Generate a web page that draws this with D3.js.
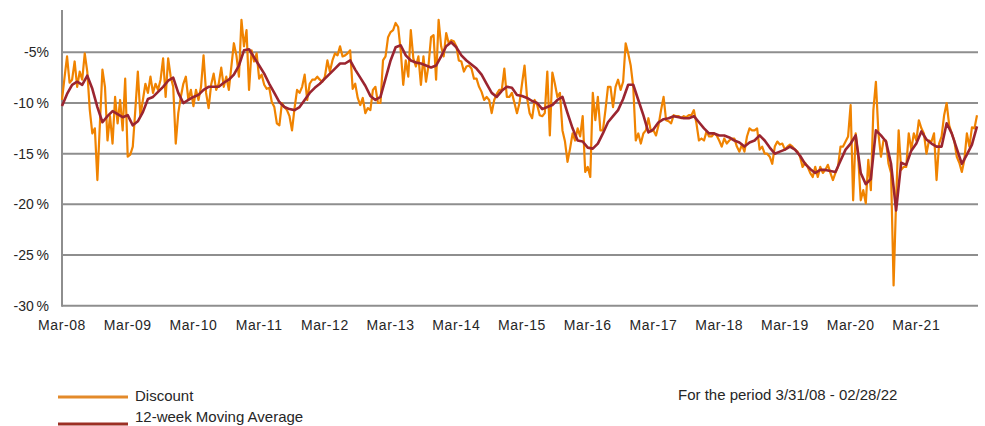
<!DOCTYPE html>
<html>
<head>
<meta charset="utf-8">
<script src="https://cdn.jsdelivr.net/npm/d3@7"></script>
<style>
    body { margin: 0; background: #fff; }
    svg text { font-family: "Liberation Sans", Arial, sans-serif; fill: #262626; }
</style>
</head>
<body>
<div id="chart"></div>
<script>
// weekly category axis, one label every 52 weeks
const tickLabels = ["Mar-08", "Mar-09", "Mar-10", "Mar-11", "Mar-12", "Mar-13", "Mar-14",
    "Mar-15", "Mar-16", "Mar-17", "Mar-18", "Mar-19", "Mar-20", "Mar-21"];
const yTicks = [-5, -10, -15, -20, -25, -30];
const lastWeek = 724;

// discount (%), one value every 2 weeks from 3/31/08
const discountStep = 2;
const discount = [
    -9.7, -7.5, -5.4, -8.0, -7.7, -5.9, -8.4, -6.9, -7.7, -5.1,
    -6.9, -10.7, -13.0, -12.5, -17.6, -12.0, -6.7, -8.4, -13.7, -11.3,
    -14.0, -9.4, -12.0, -9.7, -12.7, -7.6, -15.3, -15.1, -14.3, -10.7,
    -6.9, -11.3, -9.7, -8.1, -9.0, -7.4, -9.0, -8.1, -8.7, -7.7,
    -5.6, -9.4, -5.6, -7.4, -8.4, -14.0, -11.0, -9.4, -8.1, -7.4,
    -9.7, -8.7, -10.3, -8.7, -9.7,
    -8.4, -5.3, -9.0, -10.5, -8.2, -7.1, -8.7, -8.1, -6.5, -8.4,
    -7.4, -8.7, -6.4, -4.1, -5.3, -7.4, -1.8, -4.4, -2.8, -8.7,
    -4.8, -5.9, -5.1, -7.6, -7.2, -8.2, -8.6, -8.5, -9.9, -10.4,
    -12.0, -12.2, -10.0, -10.4, -10.7, -11.3, -12.7, -10.5, -8.7, -9.0,
    -8.4, -7.2, -9.7, -8.1, -7.7, -7.7, -7.4, -7.7, -7.9, -7.4,
    -5.8, -6.9, -5.8, -5.1, -5.3, -4.4, -5.4, -5.3, -5.1, -4.8,
    -8.6, -8.1, -9.5, -10.2, -9.5, -11.0, -10.5, -10.7, -8.7, -8.4,
    -10.0, -10.0, -5.8, -5.4, -3.5, -3.0, -2.8, -2.1, -2.5, -4.8,
    -8.2, -5.8, -7.4, -2.8, -5.6, -6.4, -5.4, -8.2, -5.4, -7.9,
    -6.3, -3.5, -3.3, -7.7, -1.8, -4.4, -5.4, -3.1, -4.1, -3.8,
    -3.9, -4.4, -5.8, -5.9, -6.9, -6.4, -6.3, -6.6, -7.6, -7.6,
    -8.4, -8.9, -9.7, -9.4, -9.7, -11.0, -9.7, -9.1, -8.7, -8.7,
    -6.6, -9.4, -9.4, -9.0, -10.0, -11.0, -10.0,
    -8.1, -6.3, -9.5, -11.0, -11.5, -9.7, -10.2, -11.2, -11.3, -11.0,
    -6.9, -13.2, -7.0, -8.1, -9.4, -9.0, -12.7, -13.8, -15.8, -14.5,
    -13.0, -13.7, -12.5, -13.3, -11.3, -16.8, -16.3, -17.3, -9.0, -11.7,
    -9.4, -12.7, -12.7, -10.7, -8.4, -8.4, -10.4, -8.4, -7.7, -8.7,
    -7.9, -4.1, -5.1, -6.3, -8.4, -13.7, -13.0, -14.0, -13.0, -12.7,
    -11.5, -12.8, -12.7, -13.2, -12.2, -10.7, -9.4, -11.7, -11.8, -12.0,
    -11.2, -11.3, -11.3, -11.5, -11.3, -11.4, -11.2, -11.2, -10.7, -12.0,
    -13.7, -13.5, -13.7, -12.8, -13.3, -13.3, -13.0, -13.2, -13.7, -14.3,
    -13.5, -14.0, -13.7, -13.5, -13.5, -14.3, -14.8, -14.1, -14.8, -13.3,
    -12.5, -12.7, -12.7, -12.5, -14.6, -14.3, -15.0, -15.0, -15.3, -16.0,
    -14.3, -13.8, -14.1, -14.0, -14.6, -14.3, -14.1, -14.3, -14.6, -14.8,
    -15.3, -16.3, -15.9, -16.3, -16.9, -17.3, -16.3, -17.3, -16.3,
    -16.9, -16.6, -16.1, -16.9, -17.6, -16.9, -16.3, -14.3, -14.3, -13.8,
    -13.3, -10.2, -19.6, -13.0, -15.3, -19.6, -18.6, -19.9, -15.6, -18.6,
    -10.7, -7.9, -13.0, -15.3, -13.7, -13.7, -16.0, -16.9, -28.0, -19.6,
    -12.7, -16.6, -16.3, -16.3, -13.0, -14.6, -13.0, -13.7, -11.7, -12.5,
    -13.0, -15.0, -13.7, -13.8, -13.0, -17.6, -14.0, -13.3, -11.2, -10.0,
    -12.2, -13.0, -13.7, -15.3, -15.9, -16.8, -15.6, -13.0, -14.3, -12.4,
    -12.5, -11.2
];

// 12-week moving average (%), one value every 4 weeks
const movingAvgStep = 4;
const movingAvg = [
    -10.3, -9.1, -8.2, -7.9, -8.2, -7.3, -8.6, -10.4, -11.9, -11.3,
    -10.8, -11.1, -11.4, -11.2, -12.2, -11.8, -10.9, -9.6, -9.4, -8.9,
    -8.4, -7.8, -7.5, -9.0, -10.0, -9.7, -9.4,
    -9.2, -8.7, -8.4, -8.4, -8.4, -8.0, -7.7, -7.2, -6.3, -4.8,
    -4.7, -5.5, -6.3, -7.1, -8.1, -9.0, -9.9, -10.4, -10.6, -10.7,
    -10.4, -9.7, -9.0, -8.5, -8.1, -7.6, -7.1, -6.6, -6.1, -6.1,
    -5.8,
    -6.7, -7.5, -8.3, -9.3, -9.7, -9.4, -7.6, -5.8, -4.5, -4.3,
    -5.3, -5.8, -6.0, -6.1, -6.3, -6.5, -6.3, -5.4, -4.4, -4.0,
    -4.5, -5.3, -5.8, -6.2, -6.6, -7.2, -8.1, -9.0, -9.4, -8.8,
    -8.4, -8.5, -9.2,
    -9.3, -9.5, -9.8, -10.0, -10.6, -10.4, -10.2, -9.7, -9.4, -11.0,
    -12.5, -13.7, -13.8, -14.4, -14.5, -14.0, -13.0, -11.9, -11.3, -10.7,
    -9.6, -8.2, -8.2, -9.7, -11.2, -12.9, -12.6, -11.9, -11.6, -11.5,
    -11.3, -11.4, -11.5, -11.5, -11.3, -11.9, -12.5, -13.0, -13.0, -13.2,
    -13.2, -13.4, -13.7, -13.9, -14.3, -13.9, -13.7, -13.2, -13.7, -14.4,
    -15.0, -14.8, -14.6, -14.3, -14.6, -15.2, -16.0, -16.5, -16.9, -16.6,
    -16.6, -16.7, -16.8, -15.7, -14.6, -14.0, -13.2, -16.9, -18.0, -17.5,
    -12.7, -13.2, -13.8, -16.0, -20.6, -15.9, -16.1, -14.7, -14.0, -12.8,
    -13.6, -14.0, -14.3, -14.3, -12.0, -13.0, -14.5, -16.0, -15.1, -14.1,
    -12.3
];

const legendItems = [
    { name: "Discount", color: "#e38a2a" },
    { name: "12-week Moving Average", color: "#9c2f24" }
];
const periodNote = "For the period 3/31/08 - 02/28/22";

const width = 985, height = 426;
const plotLeft = 62, plotRight = 977, plotTop = 10, plotBottom = 305.7;

const svg = d3.select("#chart").append("svg")
    .attr("width", width)
    .attr("height", height);

const x = d3.scaleLinear().domain([0, lastWeek]).range([plotLeft, plotRight]);
const y = d3.scaleLinear().domain([-30, 0]).range([plotBottom, plotBottom - 30 * 50.67 / 5]);

// gridlines
svg.append("g")
    .selectAll("line")
    .data(yTicks)
    .join("line")
    .attr("x1", plotLeft)
    .attr("x2", 978)
    .attr("y1", d => y(d))
    .attr("y2", d => y(d))
    .attr("stroke", "#8e8e8e")
    .attr("stroke-width", 2);

// y axis line
svg.append("line")
    .attr("x1", plotLeft).attr("x2", plotLeft)
    .attr("y1", plotTop).attr("y2", y(-30) + 1)
    .attr("stroke", "#8e8e8e")
    .attr("stroke-width", 2);

// y labels
svg.append("g")
    .selectAll("text")
    .data(yTicks)
    .join("text")
    .attr("x", 49)
    .attr("y", d => y(d))
    .attr("dy", "0.36em")
    .attr("text-anchor", "end")
    .style("font-size", "14px")
    .text(d => d === -5 ? d + "%" : d + "\u2009%");

// x labels
svg.append("g")
    .selectAll("text")
    .data(tickLabels)
    .join("text")
    .attr("x", (d, i) => x(i * 52))
    .attr("y", 325)
    .attr("dy", "0.36em")
    .attr("text-anchor", "middle")
    .style("font-size", "14px")
    .style("letter-spacing", "0.6px")
    .text(d => d);

const line = d3.line()
    .x(d => x(d.week))
    .y(d => y(d.value));

const discountData = discount.map((v, i) => ({ week: i * discountStep, value: v }));
const movingAvgData = movingAvg.map((v, i) => ({ week: i * movingAvgStep, value: v }));

svg.append("path")
    .attr("d", line(discountData))
    .attr("fill", "none")
    .attr("stroke", "#f08300")
    .attr("stroke-width", 2.2)
    .attr("stroke-linejoin", "round");

svg.append("path")
    .attr("d", line(movingAvgData))
    .attr("fill", "none")
    .attr("stroke", "#9b2530")
    .attr("stroke-width", 2.6)
    .attr("stroke-linejoin", "round");

// legend
const legend = svg.append("g");
legendItems.forEach(function (item, i) {
    let ly = 397 + i * 27;
    legend.append("line")
        .attr("x1", 58).attr("x2", 128)
        .attr("y1", ly).attr("y2", ly)
        .attr("stroke", item.color)
        .attr("stroke-width", 3);
    legend.append("text")
        .attr("x", 135)
        .attr("y", 396 + i * 21)
        .attr("dy", "0.36em")
        .style("font-size", "15px")
        .text(item.name);
});

svg.append("text")
    .attr("x", 678)
    .attr("y", 395)
    .attr("dy", "0.36em")
    .style("font-size", "15px")
    .text(periodNote);
</script>
</body>
</html>
